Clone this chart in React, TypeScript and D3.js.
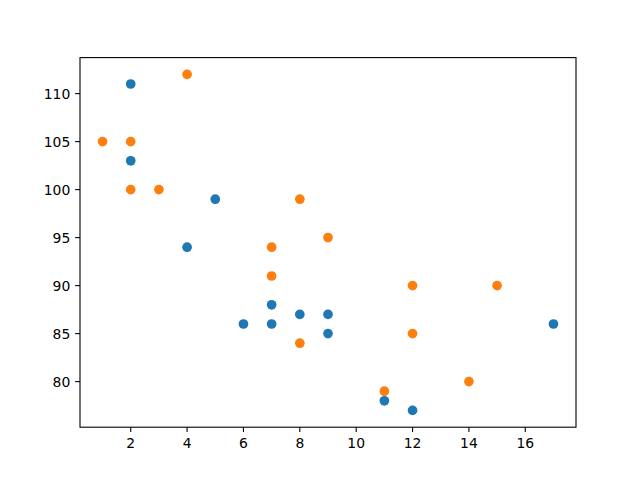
import * as d3 from 'd3'

const xBlue = [5, 7, 8, 7, 2, 17, 2, 9, 4, 11, 12, 9, 6]
const yBlue = [99, 86, 87, 88, 111, 86, 103, 87, 94, 78, 77, 85, 86]
const xOrange = [2, 2, 8, 1, 15, 8, 12, 9, 7, 3, 11, 4, 7, 14, 12]
const yOrange = [100, 105, 84, 105, 90, 99, 90, 95, 94, 100, 79, 112, 91, 80, 85]
const xTicks = [2, 4, 6, 8, 10, 12, 14, 16]
const yTicks = [80, 85, 90, 95, 100, 105, 110]

const W = 640
const H = 480
const margin = { top: 57.6, right: 64, bottom: 52.8, left: 80 }

export default function App() {
  const allX = [...xBlue, ...xOrange]
  const allY = [...yBlue, ...yOrange]
  const [x0, x1] = d3.extent(allX) as [number, number]
  const [y0, y1] = d3.extent(allY) as [number, number]
  const px = (x1 - x0) * 0.05
  const py = (y1 - y0) * 0.05
  const x = d3.scaleLinear().domain([x0 - px, x1 + px]).range([margin.left, W - margin.right])
  const y = d3.scaleLinear().domain([y0 - py, y1 + py]).range([H - margin.bottom, margin.top])
  const fs = 13.9
  const tick = 4.86
  const r = 4.85

  const series = [
    { xs: xBlue, ys: yBlue, color: '#1f77b4' },
    { xs: xOrange, ys: yOrange, color: '#ff7f0e' },
  ]

  return (
    <svg
      width={W}
      height={H}
      style={{ position: 'absolute', left: 0, top: 0, background: '#fff' }}
      fontFamily="DejaVu Sans"
    >
      {series.map((s, si) =>
        s.xs.map((v, i) => (
          <circle key={`${si}-${i}`} cx={x(v)} cy={y(s.ys[i])} r={r} fill={s.color} />
        ))
      )}
      {xTicks.map(t => (
        <g key={t} transform={`translate(${x(t)},${H - margin.bottom})`}>
          <line y2={tick} stroke="#000" strokeWidth={1.1} />
          <text y={tick + 4.9} dy="0.76em" textAnchor="middle" fontSize={fs}>
            {t}
          </text>
        </g>
      ))}
      {yTicks.map(t => (
        <g key={t} transform={`translate(${margin.left},${y(t)})`}>
          <line x2={-tick} stroke="#000" strokeWidth={1.1} />
          <text x={-tick - 4.9} dy="0.36em" textAnchor="end" fontSize={fs}>
            {t}
          </text>
        </g>
      ))}
      <rect
        x={margin.left}
        y={margin.top}
        width={W - margin.left - margin.right}
        height={H - margin.top - margin.bottom}
        fill="none"
        stroke="#000"
        strokeWidth={1.1}
      />
    </svg>
  )
}
